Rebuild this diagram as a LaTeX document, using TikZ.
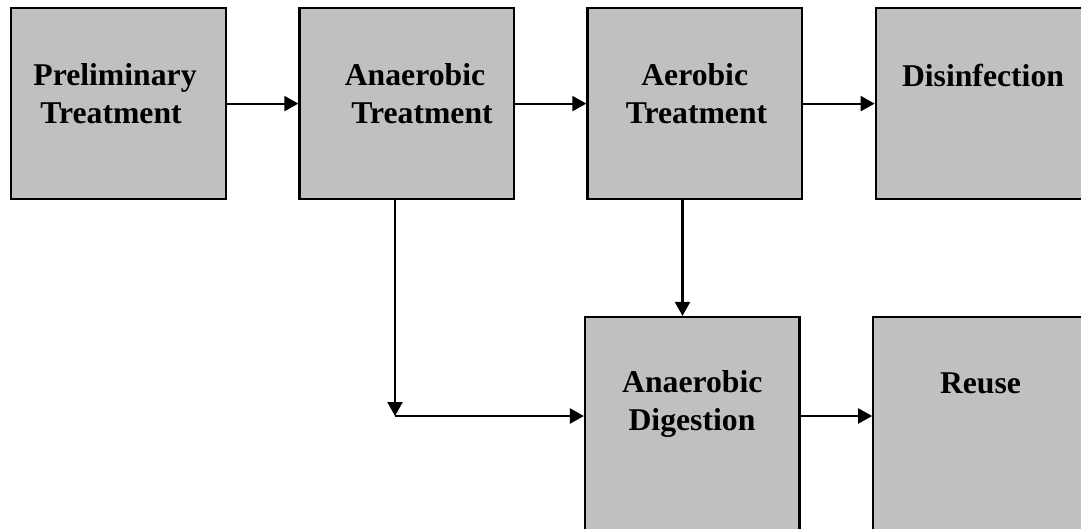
\documentclass[tikz,border=0pt]{standalone}
\usepackage{fontspec}
\setmainfont{Liberation Serif}
\usetikzlibrary{arrows.meta}
\begin{document}
\begin{tikzpicture}[x=1pt,y=-1pt,
  stepbox/.style={draw=black,line width=2.2pt,fill={rgb,255:red,192;green,192;blue,192},inner sep=0pt,minimum width=214.5pt},
  lbl/.style={anchor=base,inner sep=0pt,font=\fontsize{31.7}{38}\selectfont\bfseries},
  flow/.style={line width=2.2pt,-{Triangle[length=14pt,width=15pt]}}]
\useasboundingbox (0,0) rectangle (1081,528);
% top row
\node[stepbox,minimum height=190.5pt] (b1) at (118.5,103.6) {};
\node[stepbox,minimum height=190.5pt] (b2) at (406.7,103.6) {};
\node[stepbox,minimum height=190.5pt] (b3) at (694.7,103.6) {};
\node[stepbox,minimum height=190.5pt] (b4) at (983,103.6) {};
% bottom row
\node[stepbox,minimum height=230pt] (b5) at (692.3,432) {};
\node[stepbox,minimum height=230pt] (b6) at (980.5,432) {};
% labels
\node[lbl] (t1a) at (115,85) {Preliminary};
\node[lbl] (t1b) at (111,123) {Treatment};
\node[lbl] (t2a) at (415,85) {Anaerobic};
\node[lbl] (t2b) at (422,123) {Treatment};
\node[lbl] (t3a) at (694.7,85) {Aerobic};
\node[lbl] (t3b) at (696.5,123) {Treatment};
\node[lbl] (t4a) at (983,86) {Disinfection};
\node[lbl] (t5a) at (692.3,392) {Anaerobic};
\node[lbl] (t5b) at (692,430) {Digestion};
\node[lbl] (t6a) at (980.5,393) {Reuse};
% connectors
\coordinate (c) at (395,416);
\coordinate (d) at (682.5,416);
\draw[flow] (b1.east) -- (b2.west);
\draw[flow] (b2.east) -- (b3.west);
\draw[flow] (b3.east) -- (b4.west);
\draw[flow] (c |- b2.south) -- (c);
\draw[flow] (c) -- (c -| b5.west);
\draw[flow] (d |- b3.south) -- (d |- b5.north);
\draw[flow] (c -| b5.east) -- (c -| b6.west);
\end{tikzpicture}
\end{document}
